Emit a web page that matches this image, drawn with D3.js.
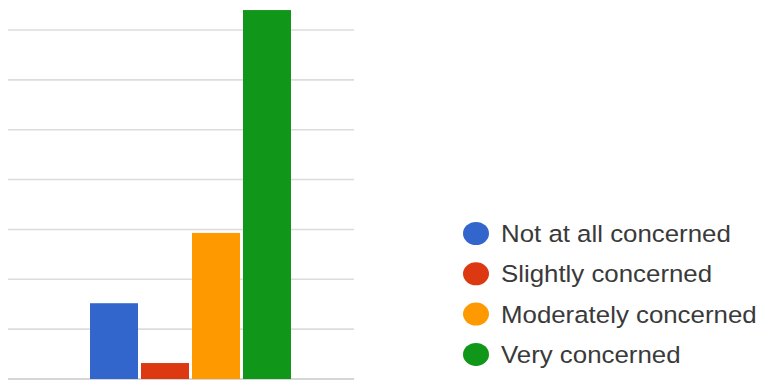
<!DOCTYPE html>
<html>
<head>
<meta charset="utf-8">
<script src="https://cdn.jsdelivr.net/npm/d3@7"></script>
<style>
  body { margin: 0; background: #fff; }
  svg { display: block; }
</style>
</head>
<body>
<div id="chart"></div>
<script>
// data
var categories = ["Not at all concerned", "Slightly concerned", "Moderately concerned", "Very concerned"];
var values = [15.2, 3.2, 29.3, 74];
var colors = ["#3366cc", "#dc3912", "#ff9900", "#109618"];
var gridTicks = [0, 10, 20, 30, 40, 50, 60, 70];

var W = 766, H = 380;

var svg = d3.select("#chart")
  .append("svg")
  .attr("width", W)
  .attr("height", H);

// scales
var x = d3.scaleBand()
  .domain(categories)
  .range([90, 291])
  .paddingInner(3 / 51)
  .paddingOuter(0);

var y = d3.scaleLinear()
  .domain([0, 70])
  .range([379, 30]);

// gridlines
svg.append("g")
  .selectAll("line")
  .data(gridTicks)
  .enter()
  .append("line")
  .attr("x1", 8)
  .attr("x2", 354)
  .attr("y1", d => y(d))
  .attr("y2", d => y(d))
  .style("stroke", (d) => d === 0 ? "#c8c8c8" : "#dcdcdc")
  .style("stroke-width", 1.6);

// bars
svg.append("g")
  .selectAll("rect")
  .data(values)
  .enter()
  .append("rect")
  .attr("x", (d, i) => x(categories[i]))
  .attr("y", d => y(d))
  .attr("width", x.bandwidth())
  .attr("height", d => y(0) - y(d))
  .attr("fill", (d, i) => colors[i]);

// legend
var legend = svg.append("g")
  .attr("transform", "translate(476,233.5)");

var item = legend.selectAll(".item")
  .data(categories)
  .enter()
  .append("g")
  .attr("class", "item")
  .attr("transform", (d, i) => "translate(0," + (i * 40.3) + ")");

item.append("ellipse")
  .attr("rx", 13)
  .attr("ry", 11.5)
  .attr("fill", (d, i) => colors[i]);

item.append("text")
  .attr("transform", "translate(25,8.4) scale(1.1,1)")
  .style("font-family", "Arial, 'Liberation Sans', sans-serif")
  .style("font-size", "23.5px")
  .style("fill", "#3a3a3a")
  .text(d => d);
</script>
</body>
</html>
